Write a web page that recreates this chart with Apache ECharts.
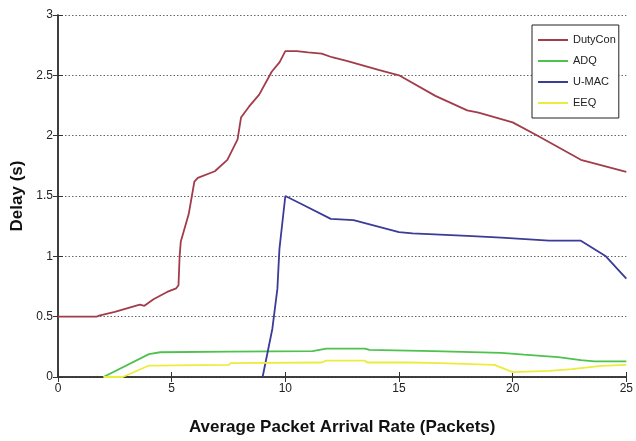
<!DOCTYPE html>
<html>
<head>
<meta charset="utf-8">
<script src="https://cdn.jsdelivr.net/npm/echarts@6/dist/echarts.min.js"></script>
<style>
  html, body { margin: 0; padding: 0; background: #ffffff; }
  #chart { width: 636px; height: 441px; }
</style>
</head>
<body>
<div id="chart"></div>
<script>
// Delay (s) versus average packet arrival rate, one [rate, delay] pair per point
var dutyCon = [
  [0, 0.5], [1.7, 0.5], [1.85, 0.51], [2.5, 0.54], [3.6, 0.6], [3.8, 0.59], [4.2, 0.645],
  [4.8, 0.705], [5.2, 0.735], [5.3, 0.76], [5.35, 1.0], [5.4, 1.12], [5.75, 1.35],
  [6.0, 1.62], [6.15, 1.65], [6.9, 1.705], [7.45, 1.8], [7.9, 1.97], [8.05, 2.15],
  [8.4, 2.24], [8.85, 2.34], [9.4, 2.53], [9.75, 2.61], [10.0, 2.7], [10.5, 2.7],
  [11.0, 2.69], [11.6, 2.68], [12.05, 2.65], [12.7, 2.62], [14.1, 2.545], [15.0, 2.5],
  [16.6, 2.33], [18.0, 2.21], [18.5, 2.19], [20.0, 2.11], [21.0, 2.01], [23.0, 1.8],
  [25.0, 1.7]
];
var adq = [
  [2.0, 0], [4.0, 0.19], [4.5, 0.205], [7.5, 0.21], [11.2, 0.215], [11.8, 0.235],
  [13.5, 0.235], [13.7, 0.225], [16.5, 0.215], [19.5, 0.2], [20.5, 0.185],
  [22.0, 0.165], [23.0, 0.14], [23.6, 0.13], [25.0, 0.13]
];
var uMac = [
  [9.0, 0], [9.43, 0.4], [9.65, 0.73], [9.74, 1.06], [10.0, 1.5], [10.75, 1.43],
  [12.0, 1.31], [13.0, 1.3], [15.0, 1.2], [15.6, 1.19], [18.0, 1.17], [19.5, 1.155],
  [21.6, 1.13], [23.0, 1.13], [24.1, 1.0], [25.0, 0.815]
];
var eeq = [
  [2.0, 0], [2.85, 0], [4.0, 0.095], [7.5, 0.1], [7.6, 0.115], [11.6, 0.12],
  [11.8, 0.135], [13.5, 0.135], [13.6, 0.12], [15.5, 0.12], [16.8, 0.115],
  [19.2, 0.1], [20.0, 0.04], [21.6, 0.05], [22.6, 0.065], [23.9, 0.093], [25.0, 0.1]
];
var seriesNames = ['DutyCon', 'ADQ', 'U-MAC', 'EEQ'];
var seriesColors = ['#a33c4a', '#4dc24d', '#3b3b98', '#ecec3e'];
var seriesData = [dutyCon, adq, uMac, eeq];

var tickFont = "'Liberation Sans', Arial, sans-serif";
var frame = { show: true, lineStyle: { color: '#333333', width: 1.5 } };
var innerTicks = { show: true, inside: true, length: 5, lineStyle: { color: '#333333', width: 1 } };

var chart = echarts.init(document.getElementById('chart'), null, { renderer: 'canvas' });
chart.setOption({
  backgroundColor: '#ffffff',
  animation: false,
  grid: { left: 58, top: 15, right: 8, bottom: 63, containLabel: false },
  legend: {
    data: seriesNames,
    orient: 'vertical',
    left: 532,
    top: 25,
    padding: [8, 3, 8, 6],
    itemGap: 7,
    itemWidth: 30,
    itemHeight: 2,
    icon: 'rect',
    backgroundColor: '#ffffff',
    borderColor: '#222222',
    borderWidth: 1,
    textStyle: { fontFamily: tickFont, fontSize: 11, color: '#222222', lineHeight: 14 }
  },
  xAxis: [{
    type: 'value', min: 0, max: 25, interval: 5,
    name: 'Average Packet Arrival Rate (Packets)',
    nameLocation: 'middle', nameGap: 42,
    nameTextStyle: { fontFamily: "'Liberation Sans', Arial, sans-serif", fontWeight: 'bold', fontSize: 17, color: '#111111' },
    axisLine: frame, axisTick: innerTicks,
    axisLabel: { fontFamily: tickFont, fontSize: 12, color: '#222222', margin: 6 },
    splitLine: { show: false }
  }, {
    type: 'value', min: 0, max: 25, interval: 5, position: 'top',
    axisLine: frame, axisTick: innerTicks, axisLabel: { show: false }, splitLine: { show: false }
  }],
  yAxis: [{
    type: 'value', min: 0, max: 3, interval: 0.5,
    name: 'Delay (s)',
    nameLocation: 'middle', nameGap: 28, nameRotate: 90,
    nameTextStyle: { fontFamily: "'Liberation Sans', Arial, sans-serif", fontWeight: 'bold', fontSize: 17, color: '#111111' },
    axisLine: frame, axisTick: innerTicks,
    axisLabel: { fontFamily: tickFont, fontSize: 12, color: '#222222', margin: 5 },
    splitLine: { show: true, lineStyle: { color: '#666666', type: [1.5, 2], width: 1 } }
  }, {
    type: 'value', min: 0, max: 3, interval: 0.5, position: 'right',
    axisLine: frame, axisTick: innerTicks, axisLabel: { show: false }, splitLine: { show: false }
  }],
  series: seriesNames.map(function (name, i) {
    return {
      name: name,
      type: 'line',
      data: seriesData[i],
      showSymbol: false,
      symbol: 'none',
      z: 3,
      color: seriesColors[i],
      lineStyle: { color: seriesColors[i], width: 1.8 }
    };
  })
});
</script>
</body>
</html>
